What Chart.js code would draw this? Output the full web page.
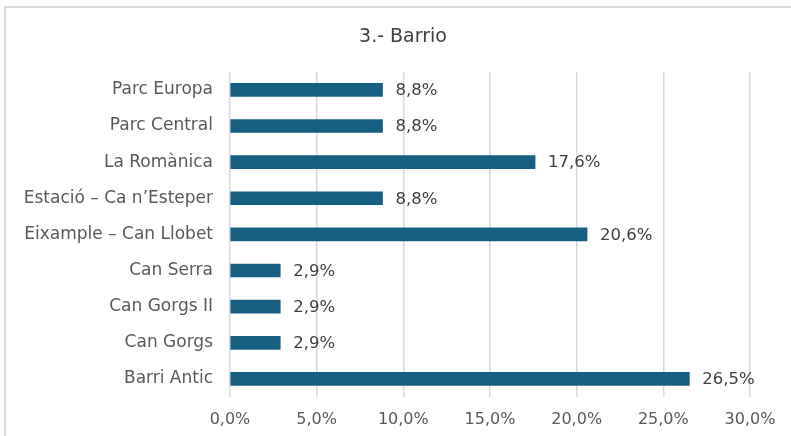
<!DOCTYPE html>
<html>
<head>
<meta charset="utf-8">
<script src="https://cdn.jsdelivr.net/npm/chart.js@4"></script>
<style>
  html, body { margin: 0; padding: 0; background: #fff; }
  #frame { position: absolute; left: 4px; top: 6px; width: 800px; height: 440px; border: 2px solid #d9d9d9; box-sizing: border-box; }
  #wrap { position: absolute; left: 0; top: 0; width: 791px; height: 436px; }
</style>
</head>
<body>
<div id="frame"></div>
<div id="wrap"><canvas id="chart" width="791" height="436"></canvas></div>
<script>
const barrios = ['Parc Europa', 'Parc Central', 'La Romànica', 'Estació – Ca n’Esteper', 'Eixample – Can Llobet', 'Can Serra', 'Can Gorgs II', 'Can Gorgs', 'Barri Antic'];
const percentages = [8.8, 8.8, 17.6, 8.8, 20.6, 2.9, 2.9, 2.9, 26.5];
const xTicks = [0, 5, 10, 15, 20, 25, 30];
const titleText = '3.- Barrio';

const FONT = "'DejaVu Sans', sans-serif";
const fmt = v => v.toFixed(1).replace('.', ',') + '%';

// value labels at the end of each bar + title centred on the whole frame
const barLabels = {
  id: 'barLabels',
  afterDatasetsDraw(chart) {
    const ctx = chart.ctx;
    const meta = chart.getDatasetMeta(0);
    ctx.save();
    ctx.font = '16.5px ' + FONT;
    ctx.fillStyle = '#404040';
    ctx.textAlign = 'left';
    ctx.textBaseline = 'middle';
    meta.data.forEach((bar, i) => {
      ctx.fillText(fmt(percentages[i]), bar.x + 13, bar.y + 1);
    });
    const tb = chart.titleBlock;
    ctx.font = '19px ' + FONT;
    ctx.textAlign = 'center';
    ctx.fillText(titleText, 403, tb.top + tb.height / 2 + 1);
    ctx.restore();
  }
};

new Chart(document.getElementById('chart'), {
  type: 'bar',
  data: {
    labels: barrios,
    datasets: [{
      data: percentages,
      backgroundColor: '#156082',
      barThickness: 13
    }]
  },
  options: {
    indexAxis: 'y',
    responsive: false,
    animation: false,
    layout: { padding: { left: 0, right: 41, top: 0, bottom: 0 } },
    plugins: {
      legend: { display: false },
      tooltip: { enabled: false },
      title: {
        display: true,
        text: titleText,
        color: 'rgba(0,0,0,0)',
        font: { family: FONT, size: 19, weight: 'normal' },
        padding: { top: 26, bottom: 23 }
      }
    },
    scales: {
      x: {
        min: 0,
        max: 30,
        afterBuildTicks: s => { s.ticks = xTicks.map(v => ({ value: v })); },
        afterFit: s => { s.height = 39; },
        ticks: {
          color: '#595959',
          font: { family: FONT, size: 16 },
          padding: 13,
          maxRotation: 0,
          callback: v => fmt(v)
        },
        grid: { color: '#d9d9d9', lineWidth: 1.5, drawTicks: false },
        border: { display: false }
      },
      y: {
        afterFit: s => { s.width = 230; },
        ticks: {
          color: '#595959',
          font: { family: FONT, size: 17 },
          padding: 17
        },
        grid: { display: false, drawTicks: false },
        border: { display: false }
      }
    }
  },
  plugins: [barLabels]
});
</script>
</body>
</html>
